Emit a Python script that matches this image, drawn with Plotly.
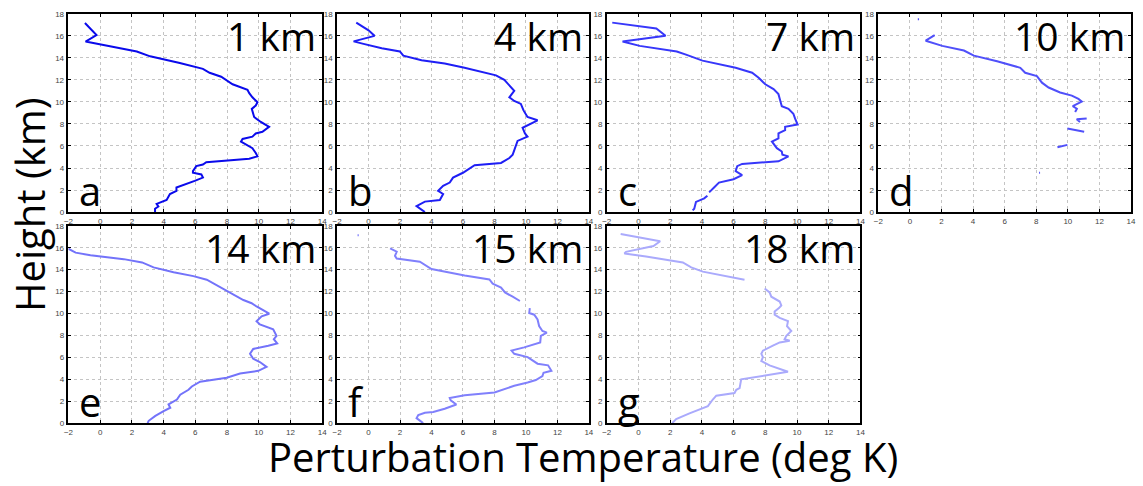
import plotly.graph_objects as go

# Perturbation temperature profiles (deg K) against height (km) at seven ranges
ranges = ["1 km", "4 km", "7 km", "10 km", "14 km", "15 km", "18 km"]
letters = ["a", "b", "c", "d", "e", "f", "g"]
colors = ["rgb(10,10,235)", "rgb(30,30,245)", "rgb(55,55,250)", "rgb(80,80,250)",
          "rgb(115,115,250)", "rgb(128,128,252)", "rgb(170,170,252)"]

temp_1km = [-0.96, -0.56, -0.23, -0.92, 0.23, 2.31, 3.15, 5.02, 6.48, 6.9, 7.63, 8.35, 9.29, 9.4,
            9.6, 9.92, 9.81, 9.56, 9.65, 9.71, 10.13, 10.65, 10.23, 9.81, 9.6, 8.98, 8.88, 9.4,
            9.6, 9.81, 9.92, 9.4, 7.73, 6.69, 6.48, 6.06, 5.85, 5.85, 6.38, 6.48, 5.96, 5.33,
            4.81, 4.81, 4.4, 4.19, 3.56, 3.67, 3.46, 3.46]
height_1km = [17.17, 16.58, 16.07, 15.48, 15.18, 14.58, 14.14, 13.54, 13.0, 12.65, 12.29, 11.6,
              11.1, 10.8, 10.42, 9.97, 9.67, 9.37, 8.93, 8.63, 8.18, 7.74, 7.29, 7.14, 6.85, 6.64,
              6.4, 5.95, 5.8, 5.36, 5.06, 4.85, 4.67, 4.52, 4.32, 4.17, 3.72, 3.57, 3.42, 3.13,
              2.83, 2.47, 2.23, 1.93, 1.64, 1.1, 0.74, 0.5, 0.3, 0.0]

temp_4km = [-0.78, 0.0, 0.38, -0.95, -0.32, 0.84, 1.99, 2.21, 3.37, 4.84, 6.1, 7.16, 8.1, 8.63,
            8.95, 9.26, 9.1, 8.95, 9.26, 9.68, 9.85, 10.1, 10.74, 10.32, 9.79, 9.94, 10.1, 9.47,
            9.26, 9.16, 8.95, 8.42, 6.74, 6.1, 6.0, 5.37, 5.16, 4.74, 4.42, 4.74, 4.53, 3.58,
            3.05, 3.58]
height_4km = [17.2, 16.5, 16.0, 15.5, 15.27, 14.88, 14.58, 14.2, 13.78, 13.48, 13.1, 12.74, 12.41,
              12.0, 11.52, 11.01, 10.71, 10.42, 10.09, 9.82, 9.23, 8.63, 8.33, 8.04, 7.65, 7.14,
              6.85, 6.46, 5.65, 5.21, 4.91, 4.46, 4.26, 3.72, 3.57, 3.13, 2.68, 2.38, 1.93, 1.64,
              1.1, 0.95, 0.54, 0.0]

temp_7km = [-1.65, 1.13, 1.71, -1.0, 0.08, 2.42, 3.0, 4.04, 6.13, 7.17, 7.58, 8.0, 8.52, 8.83,
            8.94, 9.04, 9.46, 9.77, 9.88, 10.04, 9.25, 9.25, 8.83, 8.83, 8.42, 8.73, 9.04, 9.08,
            9.46, 8.83, 6.54, 6.23, 6.13, 6.54, 6.0, 5.08, 4.77, 4.46, None, 4.35, 4.15, 3.63,
            3.52, 3.42]
height_7km = [17.2, 16.67, 16.0, 15.48, 15.09, 14.58, 14.29, 13.75, 13.1, 12.65, 12.2, 11.6, 11.16,
              10.71, 10.12, 9.61, 9.38, 8.93, 8.48, 7.95, 7.74, 7.44, 7.14, 6.7, 6.4, 5.8, 5.5,
              5.21, 5.06, 4.61, 4.37, 4.17, 3.72, 3.36, 2.98, 2.68, 2.23, 1.79, None, 1.49, 1.25,
              0.92, 0.3, 0.15]

temp_10km = [0.5, 0.58, None, 1.57, 1.0, 2.05, 3.42, 4.05, 5.52, 6.99, 7.3, 8.04, 8.36, 8.78, 9.51,
             10.25, 10.67, 10.88, 10.57, 10.31, 10.57, 10.46, None, 11.19, 10.56, 10.77, None,
             9.97, 11.03, None, 9.34, 9.97, None, 8.18, 8.24]
height_10km = [17.5, 17.5, None, 16.07, 15.56, 15.09, 14.67, 14.2, 13.69, 13.1, 12.65, 12.35,
               11.75, 11.31, 10.86, 10.57, 10.27, 10.03, 9.82, 9.61, 9.38, 9.08, None, 8.5, 8.42,
               8.18, None, 7.58, 7.29, None, 5.89, 6.1, None, 3.57, 3.57]

temp_14km = [-2.01, -1.55, -0.61, 1.49, 2.64, 3.37, 4.63, 5.88, 6.72, 7.35, 8.19, 9.03, 9.55,
             9.86, 10.66, 10.18, 9.86, 10.07, 10.91, 11.12, 10.95, 11.16, 10.6, 9.65, 9.45, 9.65,
             10.07, 10.49, 9.97, 8.82, 7.98, 6.3, 5.78, 5.57, 5.05, 4.84, 4.31, 4.42, 4.0, 3.48,
             3.06, 2.99]
height_14km = [15.91, 15.55, 15.32, 14.96, 14.66, 14.21, 13.77, 13.41, 13.08, 12.57, 11.92, 11.23,
               10.94, 10.64, 9.98, 9.74, 9.3, 9.0, 8.55, 7.96, 7.66, 7.27, 7.06, 6.76, 6.32, 5.87,
               5.57, 5.13, 4.77, 4.53, 4.14, 3.78, 3.34, 3.04, 2.59, 2.15, 1.7, 1.4, 1.1, 0.66,
               0.21, 0.0]

temp_15km = [-0.7, -0.62, None, 1.37, 1.79, 1.68, 1.79, 3.26, 3.68, 4.0, 5.05, 6.11, 7.68, 7.89,
             8.42, 8.67, 9.16, 9.62, None, 10.25, 10.21, 10.53, 10.74, 10.84, 11.05, 11.33, 10.95,
             10.91, 10.32, 9.89, 9.09, 9.26, 10.11, 10.74, 11.41, 11.62, 11.12, 11.05, 10.63,
             10.11, 9.26, 8.42, 8.0, 6.11, 5.16, 5.22, 5.58, 4.84, 4.11, 3.58, 3.16, 3.05, 3.47]
height_15km = [17.13, 17.13, None, 15.94, 15.64, 15.26, 15.02, 14.72, 14.36, 14.06, 13.77, 13.47,
               13.11, 12.72, 12.37, 11.92, 11.53, 11.14, None, 10.49, 10.04, 9.89, 9.45, 8.85, 8.4,
               8.25, 7.96, 7.36, 7.06, 6.91, 6.61, 6.32, 6.02, 5.42, 5.27, 4.77, 4.59, 4.29, 3.93,
               3.7, 3.4, 3.04, 2.8, 2.53, 2.29, 2.08, 1.7, 1.31, 1.01, 0.95, 0.74, 0.45, 0.0]

temp_18km = [-1.12, 1.37, 0.95, -0.78, -0.88, 0.48, 2.8, 3.33, 4.06, 5.33, 6.69, None, 7.96, 8.27,
             8.38, 8.91, 9.01, 8.86, 8.59, 8.59, 8.91, 9.43, 9.37, 9.64, 9.33, 9.22, 9.54, 8.91,
             8.48, 7.85, 7.75, 7.85, 7.75, 8.27, 9.43, 7.85, 6.48, 6.38, 6.17, 6.06, 4.91, 4.69,
             4.38, 3.22, 2.38, 2.13]
height_18km = [17.25, 16.59, 16.15, 15.62, 15.47, 15.2, 14.66, 14.21, 13.82, 13.47, 13.08, None,
               12.28, 11.92, 11.53, 11.09, 10.73, 10.49, 10.19, 9.89, 9.6, 9.3, 8.85, 8.4, 7.96,
               7.66, 7.51, 7.36, 7.06, 6.61, 6.32, 6.02, 5.66, 5.27, 4.68, 4.29, 3.99, 3.19, 3.04,
               2.74, 2.5, 2.15, 1.55, 0.89, 0.36, 0.0]

temps = [temp_1km, temp_4km, temp_7km, temp_10km, temp_14km, temp_15km, temp_18km]
heights = [height_1km, height_4km, height_7km, height_10km, height_14km, height_15km, height_18km]

x_ticks = [-2, 0, 2, 4, 6, 8, 10, 12, 14]
y_ticks = [0, 2, 4, 6, 8, 10, 12, 14, 16, 18]

W, H = 1143, 486
col_px = [(64, 320), (335, 589), (607, 863), (881, 1136)]
row_px = [(10, 212), (226, 427)]

fig = go.Figure()
layout = dict(
    width=W, height=H, margin=dict(l=0, r=0, t=0, b=0),
    paper_bgcolor="white", plot_bgcolor="white", showlegend=False,
    font=dict(family="Liberation Sans, Arial, sans-serif", color="#333"),
)
annotations = []

for i in range(7):
    r, c = divmod(i, 4)
    n = i + 1
    xa = "xaxis" if n == 1 else f"xaxis{n}"
    ya = "yaxis" if n == 1 else f"yaxis{n}"
    xref = "x" if n == 1 else f"x{n}"
    yref = "y" if n == 1 else f"y{n}"
    x0, x1 = col_px[c]
    y0, y1 = row_px[r]
    common = dict(
        showline=True, linecolor="black", linewidth=1.5, mirror="ticks",
        ticks="inside", ticklen=3, tickcolor="black", tickwidth=1,
        showgrid=True, gridcolor="#c4c4c4", griddash="dot", gridwidth=1,
        zeroline=False, tickfont=dict(size=8, color="#444"),
    )
    layout[xa] = dict(common, domain=[x0 / W, x1 / W], range=[-2, 14], tickvals=x_ticks,
                      anchor=yref, ticklabelstandoff=1)
    layout[ya] = dict(common, domain=[1 - y1 / H, 1 - y0 / H], range=[0, 18], tickvals=y_ticks,
                      anchor=xref, ticklabelstandoff=1)
    fig.add_trace(go.Scatter(x=temps[i], y=heights[i], mode="lines", xaxis=xref, yaxis=yref,
                             line=dict(color=colors[i], width=2), connectgaps=False,
                             hoverinfo="skip"))
    annotations.append(dict(text=ranges[i], xref=f"{xref} domain", yref=f"{yref} domain",
                            x=0.985, y=1.035, xanchor="right", yanchor="top", showarrow=False,
                            font=dict(family="Open Sans, sans-serif", size=39, color="black")))
    annotations.append(dict(text=letters[i], xref=f"{xref} domain", yref=f"{yref} domain",
                            x=0.035, y=-0.04, xanchor="left", yanchor="bottom", showarrow=False,
                            font=dict(family="Open Sans, sans-serif", size=40, color="black")))

annotations.append(dict(text="Height (km)", xref="paper", yref="paper", x=24 / W, y=1 - 204 / H,
                        textangle=-90, showarrow=False, xanchor="center", yanchor="middle",
                        font=dict(family="Open Sans, sans-serif", size=40, color="black")))
annotations.append(dict(text="Perturbation Temperature (deg K)", xref="paper", yref="paper",
                        x=583 / W, y=1 - 461 / H, showarrow=False, xanchor="center",
                        yanchor="middle",
                        font=dict(family="Open Sans, sans-serif", size=40, color="black")))
layout["annotations"] = annotations
fig.update_layout(**layout)
fig.write_html("out.html")
